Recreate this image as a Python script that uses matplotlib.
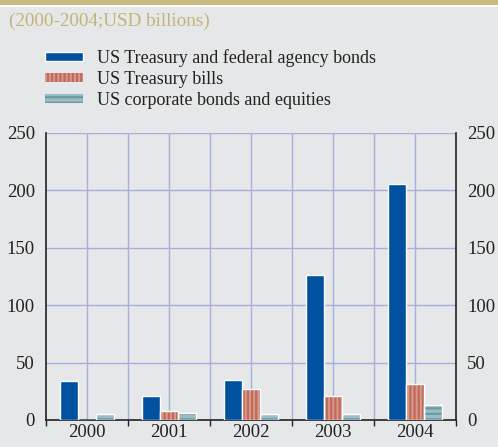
import matplotlib
matplotlib.use("Agg")
import matplotlib.pyplot as plt
from matplotlib.patches import Rectangle, Patch
import numpy as np

years = ["2000", "2001", "2002", "2003", "2004"]
treasury_bonds = [34, 21, 35, 126, 206]
treasury_bills = [0, 8, 27, 21, 31]
corporate = [5, 6, 5, 5, 13]
series_names = ["US Treasury and federal agency bonds", "US Treasury bills",
                "US corporate bonds and equities"]
yticks = [0, 50, 100, 150, 200, 250]

plt.rcParams['font.family'] = ['Liberation Serif', 'DejaVu Serif']
plt.rcParams['hatch.linewidth'] = 1.6

BG = "#e6e7e8"
fig = plt.figure(figsize=(4.98, 4.47), dpi=100, facecolor=BG)

# top band
fig.patches.append(Rectangle((0, 1 - 5/447), 1, 5/447, transform=fig.transFigure,
                             facecolor="#c9bc82", edgecolor="none"))
fig.patches.append(Rectangle((0, 1 - 7/447), 1, 2/447, transform=fig.transFigure,
                             facecolor="white", edgecolor="none"))
fig.text(9/498, 1 - 21/447, "(2000-2004;USD billions)", color="#c4b27a",
         fontsize=13.8, va="center", ha="left")

ax = fig.add_axes([46/498, 1 - 420/447, 410/498, 287/447])
ax.set_facecolor(BG)

x = np.arange(len(years))
w = 0.22
blue = "#0052a0"
red_face, red_hatch = "#d89a8a", "#c06a5c"
teal_face, teal_hatch = "#9cbcc4", "#6c98a2"

b1 = ax.bar(x - w, treasury_bonds, w, color=blue, edgecolor="white", linewidth=1, zorder=3)
ax.bar(x, treasury_bills, w, color=red_face, edgecolor=red_hatch, hatch="||||", linewidth=0, zorder=3)
b2 = ax.bar(x, treasury_bills, w, color="none", edgecolor="white", linewidth=1, zorder=4)
ax.bar(x + w, corporate, w, color=teal_face, edgecolor=teal_hatch, hatch="---", linewidth=0, zorder=3)
b3 = ax.bar(x + w, corporate, w, color="none", edgecolor="white", linewidth=1, zorder=4)

ax.set_xlim(-0.5, len(years) - 0.5)
ax.set_ylim(0, 250)
ax.set_yticks(yticks)
ax.set_xticks(x)
ax.set_xticklabels(years, fontsize=13.5)
ax.set_xticks(np.arange(-0.5, len(years), 0.5), minor=True)

grid_c = "#a4b0dc"
for gx in np.arange(0, len(years) - 0.25, 0.5):
    ax.axvline(gx, color=grid_c, lw=1, zorder=1)
for gy in yticks[1:]:
    ax.axhline(gy, color=grid_c, lw=1, zorder=1)

for s in ["left", "right", "bottom"]:
    ax.spines[s].set_color("#222222")
    ax.spines[s].set_linewidth(1.2)
ax.spines["top"].set_visible(False)

ax.tick_params(axis="y", which="both", length=0, labelsize=13.5, pad=8,
               labelleft=True, labelright=True, colors="#222222")
ax.tick_params(axis="x", which="major", length=0, pad=3, colors="#222222")
ax.tick_params(axis="x", which="minor", length=4, width=1, direction="out", color="#222222")

# legend
h1 = Patch(facecolor=blue, edgecolor="white", linewidth=1)
h2 = Patch(facecolor=red_face, edgecolor=red_hatch, hatch="||||", linewidth=0)
h3 = Patch(facecolor=teal_face, edgecolor=teal_hatch, hatch="---", linewidth=0)
leg = fig.legend([h1, h2, h3], series_names, loc="upper left",
                 bbox_to_anchor=(45/498, 1 - 49/447), frameon=False,
                 fontsize=13, handlelength=2.1, handleheight=0.38,
                 labelspacing=0.22, handletextpad=0.78, borderpad=0,
                 borderaxespad=0)
for t in leg.get_texts():
    t.set_color("#222222")

fig.savefig("out.png", dpi=100, facecolor=BG)
